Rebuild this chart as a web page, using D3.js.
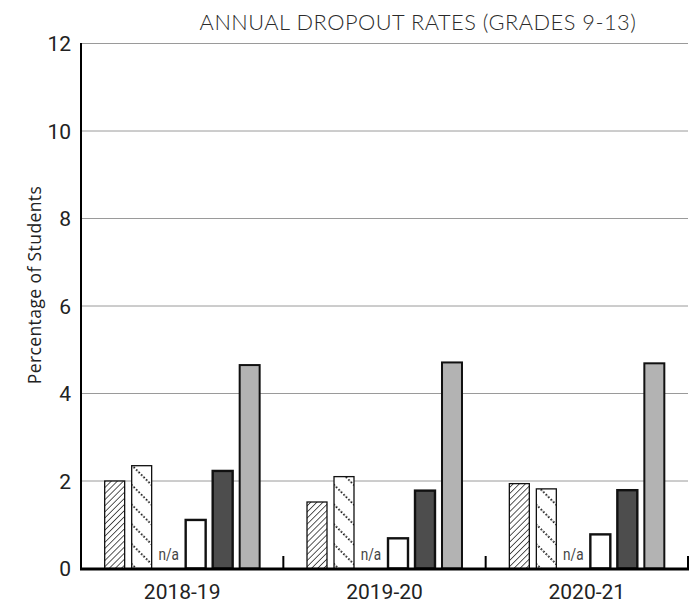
<!DOCTYPE html>
<html><head><meta charset="utf-8">
<script src="https://cdn.jsdelivr.net/npm/d3@7"></script>
<style>body{margin:0;background:#fff}svg{display:block}</style>
</head><body>
<script>
const years = ["2018-19", "2019-20", "2020-21"];
const seriesKeys = ["s1", "s2", "s3", "s4", "s5", "s6"];
const s1 = [2.00, 1.52, 1.94];
const s2 = [2.35, 2.10, 1.82];
const s3 = [null, null, null];
const s4 = [1.11, 0.69, 0.78];
const s5 = [2.23, 1.78, 1.79];
const s6 = [4.65, 4.71, 4.69];
const yTicks = [0, 2, 4, 6, 8, 10, 12];
const title = "ANNUAL DROPOUT RATES (GRADES 9-13)";
const yLabel = "Percentage of Students";

const seriesVals = {s1, s2, s3, s4, s5, s6};
const fills = {s1: "url(#hatch)", s2: "url(#dots)", s3: "#fff", s4: "#fff", s5: "#4d4d4d", s6: "#b3b3b3"};
const strokeW = {s1: 1.3, s2: 1.3, s3: 2, s4: 2.4, s5: 2.4, s6: 2};

const W = 699, H = 606;
const svg = d3.select("body").append("svg").attr("width", W).attr("height", H);
const defs = svg.append("defs");
const ph = defs.append("pattern").attr("id", "hatch").attr("patternUnits", "userSpaceOnUse")
  .attr("width", 4.3).attr("height", 4.3).attr("patternTransform", "rotate(45)");
ph.append("rect").attr("width", 4.3).attr("height", 4.3).attr("fill", "#fff");
ph.append("line").attr("x1", 0).attr("y1", 0).attr("x2", 0).attr("y2", 4.3).attr("stroke", "#000").attr("stroke-width", 1.3);
const pd = defs.append("pattern").attr("id", "dots").attr("patternUnits", "userSpaceOnUse")
  .attr("width", 14).attr("height", 14).attr("patternTransform", "rotate(-45)");
pd.append("rect").attr("width", 14).attr("height", 14).attr("fill", "#fff");
pd.append("line").attr("x1", 1).attr("y1", 0).attr("x2", 1).attr("y2", 14).attr("stroke", "#000")
  .attr("stroke-width", 1.8).attr("stroke-dasharray", "1.6,1.9");

const x0 = d3.scaleBand().domain(years).range([81, 688]).padding(0);
const x1 = d3.scaleBand().domain(seriesKeys).range([0, x0.bandwidth()]).paddingInner(0.26).paddingOuter(0.877);
const y = d3.scaleLinear().domain([0, 12]).range([568.5, 43.5]);

// gridlines
svg.append("g").selectAll("line").data(yTicks.filter(d => d > 0)).join("line")
  .attr("x1", 81).attr("x2", 688).attr("y1", d => y(d)).attr("y2", d => y(d))
  .attr("stroke", "#9a9a9a").attr("stroke-width", 1);

// title
svg.append("text").attr("x", 418).attr("y", 30).attr("text-anchor", "middle")
  .attr("font-family", "Lato, 'Open Sans', sans-serif").attr("font-size", 21.8).attr("font-weight", 300)
  .attr("letter-spacing", 0.5).attr("fill", "#2a2a2a").text(title);

// y tick labels
svg.append("g").selectAll("text").data(yTicks).join("text")
  .attr("x", 71).attr("y", d => y(d)).attr("dy", "0.36em").attr("text-anchor", "end")
  .attr("font-family", "Roboto, sans-serif").attr("font-size", 21).attr("fill", "#222").text(d => d);

// y label
svg.append("text").attr("transform", "translate(41,285) rotate(-90)").attr("text-anchor", "middle")
  .attr("font-family", "'Open Sans', sans-serif").attr("font-size", 17.5).attr("letter-spacing", 0.4)
  .attr("fill", "#222").text(yLabel);

// bars
const groups = svg.append("g").selectAll("g").data(years).join("g")
  .attr("transform", d => `translate(${x0(d)},0)`);
groups.selectAll("rect").data((d, i) => seriesKeys.map(k => ({k, v: seriesVals[k][i]})).filter(e => e.v != null))
  .join("rect")
  .attr("x", d => x1(d.k)).attr("width", x1.bandwidth())
  .attr("y", d => y(d.v)).attr("height", d => y(0) - y(d.v))
  .attr("fill", d => fills[d.k]).attr("stroke", "#111").attr("stroke-width", d => strokeW[d.k]);
groups.selectAll("text.na").data((d, i) => seriesKeys.map(k => ({k, v: seriesVals[k][i]})).filter(e => e.v == null))
  .join("text").attr("class", "na")
  .attr("x", d => x1(d.k) + x1.bandwidth() / 2).attr("y", 560).attr("text-anchor", "middle")
  .attr("font-family", "Roboto, sans-serif").attr("font-size", 16).attr("fill", "#444")
  .attr("transform", d => `translate(${x1(d.k) + x1.bandwidth() / 2},0) scale(0.85,1) translate(${-(x1(d.k) + x1.bandwidth() / 2)},0)`)
  .text("n/a");

// axes lines
svg.append("line").attr("x1", 81).attr("x2", 81).attr("y1", 43).attr("y2", 570).attr("stroke", "#000").attr("stroke-width", 2);
svg.append("line").attr("x1", 80).attr("x2", 689).attr("y1", 569).attr("y2", 569).attr("stroke", "#000").attr("stroke-width", 3);
svg.append("g").selectAll("line").data(years).join("line")
  .attr("x1", d => x0(d) + x0.bandwidth()).attr("x2", d => x0(d) + x0.bandwidth())
  .attr("y1", 556).attr("y2", 569).attr("stroke", "#000").attr("stroke-width", 2);

// x labels
svg.append("g").selectAll("text").data(years).join("text")
  .attr("x", d => x0(d) + x0.bandwidth() / 2).attr("y", 599).attr("text-anchor", "middle")
  .attr("font-family", "Roboto, sans-serif").attr("font-size", 21).attr("fill", "#222").text(d => d);
</script>
</body></html>
